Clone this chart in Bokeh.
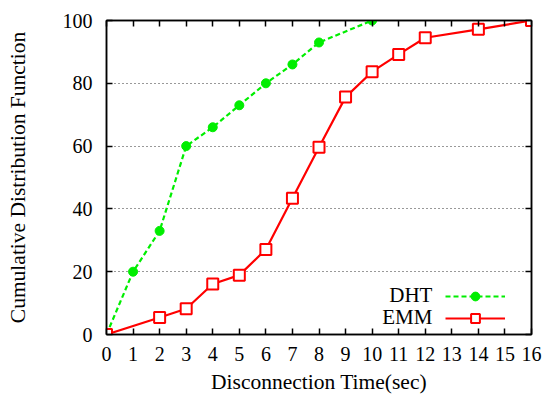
from bokeh.plotting import figure
from bokeh.models import (LinearAxis, FixedTicker, Legend, LegendItem, Label, Range1d,
                          CustomJSTickFormatter)
from bokeh.embed import file_html
from bokeh.resources import INLINE

x_ticks = list(range(0, 17))
y_ticks = [0, 20, 40, 60, 80, 100]
grid_ticks = [20, 40, 60, 80]

dht_x = [0, 1, 2, 3, 4, 5, 6, 7, 8, 10]
dht_y = [0, 20, 33, 60, 66, 73, 80, 86, 93, 100]

emm_x = [0, 2, 3, 4, 5, 6, 7, 8, 9, 10, 11, 12, 14, 16]
emm_y = [0, 5.4, 8.2, 16.1, 18.9, 27.1, 43.4, 59.6, 75.6, 83.7, 89.2, 94.5, 97.2, 100]

FONT = "Liberation Serif"

p = figure(width=545, height=397, output_backend="svg", toolbar_location=None,
           x_range=Range1d(0, 16), y_range=Range1d(0, 100),
           min_border_left=106, min_border_right=14, min_border_top=20, min_border_bottom=63)
p.outline_line_color = "black"
p.outline_line_width = 1.5
p.background_fill_color = "white"
p.border_fill_color = "white"

p.xgrid.visible = False
p.ygrid.ticker = FixedTicker(ticks=grid_ticks)
p.ygrid.grid_line_color = "#333333"
p.ygrid.grid_line_dash = "1 3"
p.ygrid.grid_line_width = 1

def style_axis(ax, labels=True):
    ax.major_tick_in = 6
    ax.major_tick_out = 0
    ax.minor_tick_line_color = None
    ax.axis_line_color = "black"
    ax.axis_line_width = 1.5
    ax.major_tick_line_color = "black"
    ax.major_tick_line_width = 1.5
    ax.major_label_text_font = FONT
    ax.major_label_text_font_size = "20px"
    ax.major_label_text_color = "black"
    ax.axis_label_text_font = FONT
    ax.axis_label_text_font_size = "21.5px"
    ax.axis_label_text_font_style = "normal"
    ax.axis_label_text_color = "black"
    if not labels:
        ax.formatter = CustomJSTickFormatter(code="return ''")
        ax.major_label_standoff = 0

xa = p.xaxis[0]
xa.ticker = FixedTicker(ticks=x_ticks)
xa.axis_label = "Disconnection Time(sec)"
style_axis(xa)
xa.major_label_standoff = 12
xa.axis_label_standoff = 6

ya = p.yaxis[0]
ya.ticker = FixedTicker(ticks=y_ticks)
ya.axis_label = "Cumulative Distribution Function"
style_axis(ya)
ya.major_label_standoff = 14
ya.axis_label_standoff = 30

top = LinearAxis(ticker=FixedTicker(ticks=x_ticks))
style_axis(top, labels=False)
p.add_layout(top, "above")
right = LinearAxis(ticker=FixedTicker(ticks=y_ticks))
style_axis(right, labels=False)
p.add_layout(right, "right")

dht_l = p.line(dht_x, dht_y, line_color="#00ee00", line_width=2.2, line_dash="5 3")
dht_s = p.scatter(dht_x, dht_y, marker="circle", size=9, fill_color="#00ee00", line_color="#00ee00")
emm_l = p.line(emm_x, emm_y, line_color="#ff0000", line_width=2.2)
emm_s = p.scatter(emm_x, emm_y, marker="square", size=11, fill_color="white", line_color="#ff0000", line_width=2)

legend = Legend(items=[LegendItem(label="", renderers=[dht_l, dht_s]),
                       LegendItem(label="", renderers=[emm_l, emm_s])],
                location=(339, 5), glyph_width=60, glyph_height=22, label_height=22,
                label_width=0, label_standoff=0, padding=0, margin=0, spacing=0,
                border_line_color=None, background_fill_alpha=0)
p.add_layout(legend, "center")

for txt, yy in [("DHT", 12.7), ("EMM", 5.7)]:
    p.add_layout(Label(x=12.27, y=yy, text=txt, text_align="right", text_baseline="middle",
                       text_font=FONT, text_font_size="21px", text_color="black"))

open("out.html", "w").write(file_html(p, INLINE))
